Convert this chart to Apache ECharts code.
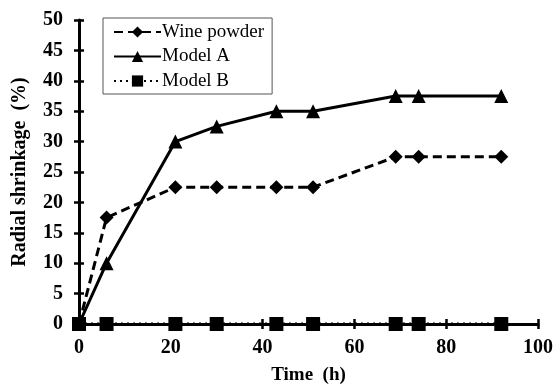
<!DOCTYPE html>
<html>
<head>
<meta charset="utf-8">
<script src="https://cdn.jsdelivr.net/npm/echarts@6/dist/echarts.min.js"></script>
<style>
  html, body { margin: 0; padding: 0; background: #fff; }
  #chart { width: 555px; height: 387px; }
</style>
</head>
<body>
<div id="chart"></div>
<script>
// time points (h)
var times = [0, 6, 21, 30, 43, 51, 69, 74, 92];
var winePowder = [0, 17.5, 22.5, 22.5, 22.5, 22.5, 27.5, 27.5, 27.5];
var modelA = [0, 10, 30, 32.5, 35, 35, 37.5, 37.5, 37.5];
var modelB = [0, 0, 0, 0, 0, 0, 0, 0, 0];

function pairs(ys) {
    return times.map(function (t, i) { return [t, ys[i]]; });
}

var font = 'Liberation Serif';
var myChart = echarts.init(document.getElementById('chart'));

var axisLine = { lineStyle: { color: '#000', width: 3 } };
var tick = { color: '#000', width: 2.5 };

myChart.setOption({
    backgroundColor: '#fff',
    animation: false,
    grid: { left: 79, right: 17, top: 20, bottom: 63, outerBoundsMode: 'none', containLabel: false },
    legend: {
        orient: 'vertical',
        left: 103,
        top: 18,
        padding: [4, 8, 3, 10],
        itemGap: 4.5,
        itemWidth: 47,
        itemHeight: 14,
        borderColor: '#555',
        borderWidth: 1,
        textStyle: { fontFamily: font, fontSize: 19, lineHeight: 20, color: '#000', padding: [0, 0, 0, -4] },
        data: ['Wine powder', 'Model A', 'Model B']
    },
    xAxis: [{
        type: 'value',
        min: 0, max: 100, interval: 20,
        name: 'Time  (h)',
        nameLocation: 'middle',
        nameGap: 42,
        nameTextStyle: { fontFamily: font, fontWeight: 'bold', fontSize: 19, color: '#000', verticalAlign: 'top' },
        axisLine: axisLine,
        axisTick: { length: 5, lineStyle: tick },
        axisLabel: { fontFamily: font, fontWeight: 'bold', fontSize: 20, color: '#000', margin: 14 },
        splitLine: { show: false }
    }, {
        type: 'value',
        min: 0, max: 100, interval: 20,
        position: 'bottom',
        axisLine: { show: false },
        axisTick: { inside: true, length: 5, lineStyle: tick },
        axisLabel: { show: false },
        splitLine: { show: false }
    }],
    yAxis: [{
        type: 'value',
        min: 0, max: 50, interval: 5,
        name: 'Radial shrinkage  (%)',
        nameLocation: 'middle',
        nameGap: 49,
        nameTextStyle: { fontFamily: font, fontWeight: 'bold', fontSize: 20, color: '#000' },
        axisLine: axisLine,
        axisTick: { length: 5, lineStyle: tick },
        axisLabel: { fontFamily: font, fontWeight: 'bold', fontSize: 20, color: '#000', margin: 16 },
        splitLine: { show: false }
    }, {
        type: 'value',
        min: 0, max: 50, interval: 5,
        position: 'left',
        axisLine: { show: false },
        axisTick: { inside: true, length: 5, lineStyle: tick },
        axisLabel: { show: false },
        splitLine: { show: false }
    }],
    series: [
        {
            name: 'Wine powder',
            type: 'line',
            data: pairs(winePowder),
            symbol: 'diamond',
            symbolSize: 14,
            itemStyle: { color: '#000' },
            lineStyle: { color: '#000', width: 3, type: [9, 5] },
            z: 3
        },
        {
            name: 'Model A',
            type: 'line',
            data: pairs(modelA),
            symbol: 'triangle',
            symbolSize: 14,
            itemStyle: { color: '#000' },
            lineStyle: { color: '#000', width: 3, type: 'solid' },
            z: 3
        },
        {
            name: 'Model B',
            type: 'line',
            data: pairs(modelB),
            symbol: 'rect',
            symbolSize: 14,
            itemStyle: { color: '#000' },
            lineStyle: { color: '#000', width: 3, type: [2, 4] },
            z: 4
        }
    ]
});
</script>
</body>
</html>
